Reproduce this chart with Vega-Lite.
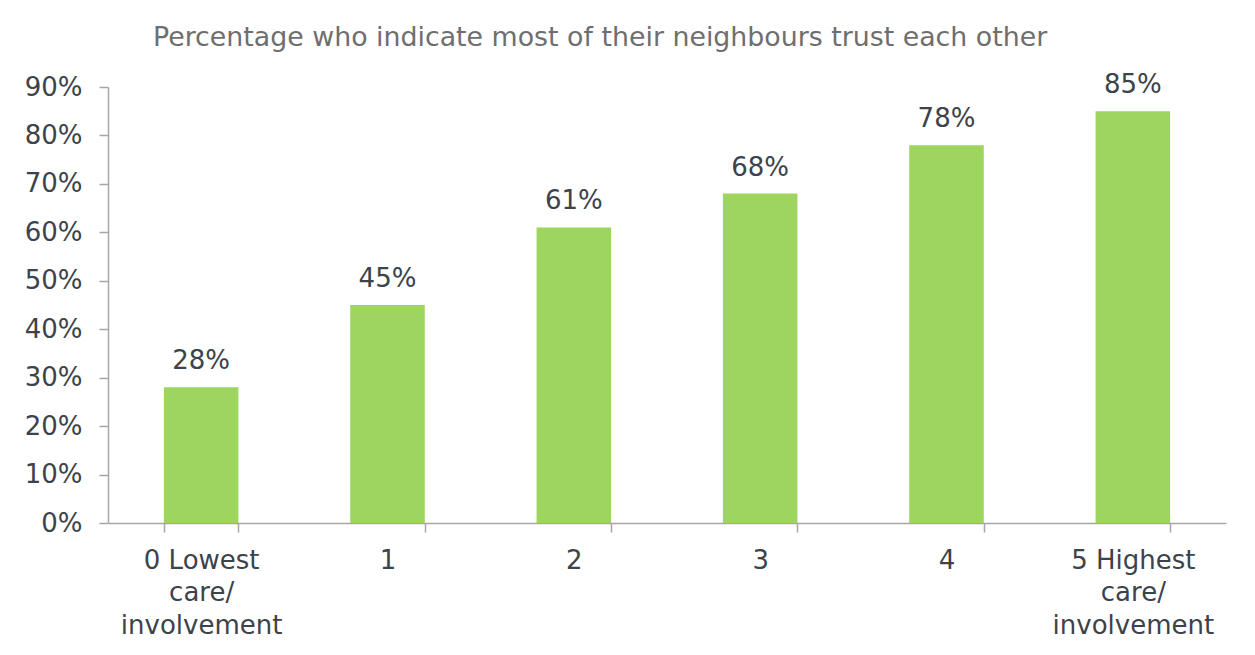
{
  "$schema": "https://vega.github.io/schema/vega-lite/v6.json",
  "autosize": {"type": "none"},
  "width": 1118,
  "height": 436,
  "padding": {"left": 108, "top": 87, "right": 29, "bottom": 132},
  "background": "white",
  "title": {
    "text": "Percentage who indicate most of their neighbours trust each other",
    "anchor": "start",
    "frame": "group",
    "dx": 45,
    "offset": -1,
    "baseline": "alphabetic",
    "font": "DejaVu Sans",
    "fontSize": 26.8,
    "fontWeight": "normal",
    "color": "#6e6e6e"
  },
  "data": {
    "values": [
      {"category": "0 Lowest care/involvement", "value": 0.28},
      {"category": "1", "value": 0.45},
      {"category": "2", "value": 0.61},
      {"category": "3", "value": 0.68},
      {"category": "4", "value": 0.78},
      {"category": "5 Highest care/involvement", "value": 0.85}
    ]
  },
  "encoding": {
    "x": {
      "field": "category",
      "type": "nominal",
      "sort": null,
      "scale": {"paddingInner": 0.6, "paddingOuter": 0.3},
      "axis": {
        "title": null,
        "labelAngle": 0,
        "labelFont": "DejaVu Sans",
        "labelFontSize": 26,
        "labelColor": "#3c434a",
        "labelPadding": 15,
        "labelLineHeight": 32.5,
        "tickBand": "extent",
        "tickSize": 9,
        "tickColor": "#a6a6a6",
        "domainColor": "#a6a6a6",
        "domainWidth": 1.5,
        "tickWidth": 1.5,
        "labelExpr": "datum.label == '0 Lowest care/involvement' ? ['0 Lowest', 'care/', 'involvement'] : datum.label == '5 Highest care/involvement' ? ['5 Highest', 'care/', 'involvement'] : datum.label"
      }
    },
    "y": {
      "field": "value",
      "type": "quantitative",
      "scale": {"domain": [0, 0.9], "nice": false},
      "axis": {
        "title": null,
        "format": ".0%",
        "values": [0, 0.1, 0.2, 0.3, 0.4, 0.5, 0.6, 0.7, 0.8, 0.9],
        "grid": false,
        "labelFont": "DejaVu Sans",
        "labelFontSize": 26,
        "labelColor": "#3c434a",
        "labelPadding": 17,
        "tickSize": 9,
        "tickColor": "#a6a6a6",
        "domainColor": "#a6a6a6",
        "domainWidth": 1.5,
        "tickWidth": 1.5
      }
    }
  },
  "layer": [
    {"mark": {"type": "bar", "color": "#9dd55f"}},
    {
      "mark": {
        "type": "text",
        "baseline": "alphabetic",
        "dy": -18,
        "font": "DejaVu Sans",
        "fontSize": 26,
        "color": "#3c434a"
      },
      "encoding": {"text": {"field": "value", "type": "quantitative", "format": ".0%"}}
    }
  ],
  "config": {"view": {"stroke": null}}
}
